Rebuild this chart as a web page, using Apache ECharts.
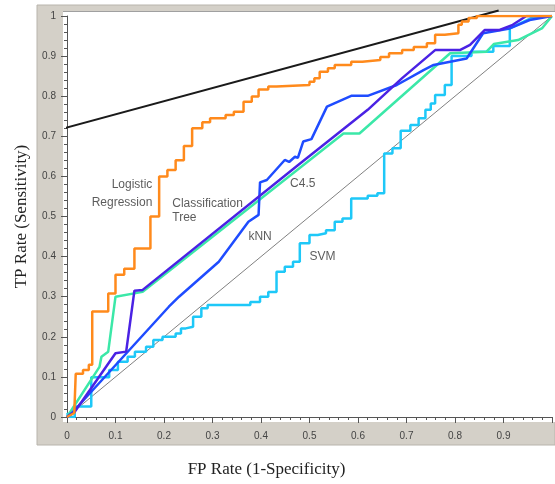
<!DOCTYPE html>
<html>
<head>
<meta charset="utf-8">
<script src="https://cdn.jsdelivr.net/npm/echarts@6/dist/echarts.min.js"></script>
<style>
html,body{margin:0;padding:0;background:#fff;}
#chart{width:555px;height:484px;}
</style>
</head>
<body>
<div id="chart"></div>
<script>
// ---- data ----
const xTickLabels = ['0','0.1','0.2','0.3','0.4','0.5','0.6','0.7','0.8','0.9'];
const seriesNames = ['Logistic Regression','Classification Tree','C4.5','kNN','SVM'];

const logisticRegression = [[0,0],[0.015,0.01],[0.018,0.01],[0.018,0.108],[0.033,0.108],[0.033,0.117],[0.045,0.117],[0.045,0.13],[0.052,0.13],[0.052,0.263],[0.085,0.263],[0.085,0.308],[0.10,0.308],[0.10,0.355],[0.118,0.355],[0.118,0.37],[0.139,0.37],[0.139,0.42],[0.172,0.42],[0.172,0.50],[0.19,0.50],[0.19,0.60],[0.207,0.60],[0.207,0.616],[0.224,0.616],[0.224,0.64],[0.241,0.64],[0.241,0.676],[0.258,0.676],[0.258,0.72],[0.279,0.72],[0.279,0.735],[0.295,0.735],[0.295,0.745],[0.327,0.745],[0.327,0.753],[0.344,0.753],[0.344,0.761],[0.364,0.761],[0.364,0.786],[0.381,0.786],[0.381,0.799],[0.395,0.799],[0.395,0.817],[0.415,0.817],[0.415,0.824],[0.432,0.824],[0.432,0.828],[0.50,0.828],[0.50,0.836],[0.51,0.836],[0.51,0.845],[0.521,0.845],[0.521,0.861],[0.538,0.861],[0.538,0.87],[0.552,0.87],[0.552,0.878],[0.586,0.878],[0.586,0.886],[0.609,0.886],[0.609,0.89],[0.646,0.89],[0.646,0.898],[0.664,0.898],[0.664,0.907],[0.691,0.907],[0.691,0.915],[0.715,0.915],[0.715,0.923],[0.742,0.923],[0.742,0.932],[0.759,0.932],[0.759,0.953],[0.779,0.953],[0.779,0.957],[0.807,0.957],[0.807,0.978],[0.814,0.978],[0.814,0.986],[0.828,0.986],[0.828,0.995],[0.845,0.995],[0.845,1.0],[1,1]];

const classificationTree = [[0,0],[0.067,0.125],[0.071,0.15],[0.085,0.163],[0.10,0.30],[0.156,0.312],[0.57,0.707],[0.603,0.707],[0.79,0.907],[0.865,0.911],[0.88,0.93],[0.93,0.94],[0.98,0.97],[1,1]];

const c45 = [[0,0],[0.016,0.013],[0.10,0.159],[0.122,0.163],[0.139,0.315],[0.156,0.317],[0.476,0.628],[0.62,0.766],[0.691,0.845],[0.759,0.915],[0.81,0.915],[0.831,0.928],[0.861,0.965],[0.892,0.965],[0.919,0.978],[0.947,1.0],[1,1]];

const knn = [[0,0],[0.01,0.01],[0.21,0.275],[0.231,0.30],[0.313,0.387],[0.374,0.487],[0.395,0.504],[0.398,0.504],[0.398,0.585],[0.412,0.591],[0.449,0.641],[0.458,0.636],[0.47,0.649],[0.476,0.646],[0.487,0.687],[0.504,0.693],[0.536,0.774],[0.586,0.801],[0.62,0.801],[0.68,0.828],[0.735,0.865],[0.756,0.878],[0.824,0.894],[0.858,0.957],[0.913,0.969],[0.954,0.99],[1,1]];

const svm = [[0,0.01],[0.005,0.0],[0.016,0.0],[0.016,0.026],[0.05,0.026],[0.05,0.099],[0.087,0.099],[0.087,0.117],[0.105,0.117],[0.105,0.138],[0.125,0.138],[0.125,0.15],[0.14,0.15],[0.14,0.163],[0.163,0.163],[0.163,0.175],[0.178,0.175],[0.178,0.192],[0.197,0.192],[0.197,0.20],[0.224,0.20],[0.224,0.208],[0.235,0.208],[0.235,0.221],[0.245,0.221],[0.245,0.225],[0.26,0.225],[0.26,0.25],[0.277,0.25],[0.277,0.271],[0.29,0.271],[0.29,0.279],[0.378,0.279],[0.378,0.287],[0.398,0.287],[0.398,0.30],[0.415,0.30],[0.415,0.312],[0.432,0.312],[0.432,0.362],[0.449,0.362],[0.449,0.375],[0.466,0.375],[0.466,0.387],[0.48,0.387],[0.48,0.433],[0.50,0.433],[0.50,0.454],[0.517,0.454],[0.517,0.458],[0.534,0.458],[0.534,0.466],[0.552,0.466],[0.552,0.487],[0.568,0.487],[0.568,0.495],[0.586,0.495],[0.586,0.545],[0.62,0.545],[0.62,0.552],[0.64,0.552],[0.64,0.558],[0.654,0.558],[0.654,0.657],[0.671,0.657],[0.671,0.67],[0.688,0.67],[0.688,0.714],[0.708,0.714],[0.708,0.728],[0.725,0.728],[0.725,0.745],[0.739,0.745],[0.739,0.766],[0.75,0.766],[0.75,0.782],[0.759,0.782],[0.759,0.803],[0.779,0.803],[0.779,0.828],[0.793,0.828],[0.793,0.9],[0.834,0.9],[0.834,0.911],[0.879,0.911],[0.879,0.925],[0.913,0.925],[0.913,0.969],[0.957,0.995],[1,1]];

const diagonal = [[0,0],[1,1]];
const isoLine = [[-0.008,0.7195],[0.89,1.0135]];

const annText  = ['Logistic','Regression','Classification','Tree','C4.5','kNN','SVM'];
const annX     = [0.176,0.176,0.217,0.217,0.46,0.374,0.50];
const annY     = [0.579,0.534,0.533,0.497,0.583,0.45,0.40];
const annAlign = ['right','right','left','left','left','left','left'];

const colors = {
  lr:'#ff8a1c', ct:'#3be8a8', c45:'#4a22e4', knn:'#1f4cff', svm:'#1ec8f8'
};

// ---- chart ----
const chart = echarts.init(document.getElementById('chart'), null, {renderer:'canvas'});

function lineSeries(name, data, color, width, z) {
  return {
    name, type:'line', data, showSymbol:false, symbol:'none',
    lineStyle:{color, width}, itemStyle:{color}, z: z, animation:false
  };
}

const annData = annText.map((t,i)=>({
  value:[annX[i], annY[i]],
  label:{show:true, formatter:t, position: annAlign[i]==='right' ? 'left' : 'right',
         distance:0, align: annAlign[i], verticalAlign:'middle'}
}));

const option = {
  animation:false,
  backgroundColor:'#ffffff',
  graphic:[
    {type:'rect', z:-20, shape:{x:37,y:5,width:518,height:440}, style:{fill:'#d4d0c8', stroke:'#b8b4ac', lineWidth:1}},
    {type:'rect', z:-19, shape:{x:63,y:11,width:492,height:411}, style:{fill:'#ffffff'}},
    {type:'line', z:-18, shape:{x1:63,y1:11.5,x2:555,y2:11.5}, style:{stroke:'#a0a0a0', lineWidth:1}}
  ],
  grid:{left:67, top:16, width:489, height:401, containLabel:false},
  xAxis:{
    type:'value', min:0, max:1, interval:0.1, offset:8,
    name:'FP Rate (1-Specificity)', nameLocation:'middle', nameGap:36,
    nameTextStyle:{fontFamily:'Liberation Serif', fontSize:17, color:'#222', padding:[0,86,0,0]},
    axisLine:{show:true, lineStyle:{color:'#555', width:1}},
    axisTick:{show:true, length:6, lineStyle:{color:'#555'}},
    minorTick:{show:true, splitNumber:5, length:3, lineStyle:{color:'#555'}},
    splitLine:{show:false}, minorSplitLine:{show:false},
    axisLabel:{fontFamily:'Liberation Sans', fontSize:10, color:'#444', margin:6,
      formatter:(v)=>{ const i=Math.round(v*10); return i<xTickLabels.length ? xTickLabels[i] : ''; }}
  },
  yAxis:{
    type:'value', min:0, max:1, interval:0.1, offset:6,
    name:'TP Rate (Sensitivity)', nameLocation:'middle', nameGap:31, nameRotate:90,
    nameTextStyle:{fontFamily:'Liberation Serif', fontSize:17, color:'#222'},
    axisLine:{show:true, lineStyle:{color:'#555', width:1}},
    axisTick:{show:true, length:6, lineStyle:{color:'#555'}},
    minorTick:{show:true, splitNumber:5, length:3, lineStyle:{color:'#555'}},
    splitLine:{show:false}, minorSplitLine:{show:false},
    axisLabel:{fontFamily:'Liberation Sans', fontSize:10, color:'#444', margin:5}
  },
  series:[
    lineSeries('Random', diagonal, '#808080', 1, 2),
    Object.assign(lineSeries('Iso', isoLine, '#1a1a1a', 2, 3), {clip:false}),
    lineSeries(seriesNames[4], svm, colors.svm, 2.5, 4),
    lineSeries(seriesNames[1], classificationTree, colors.ct, 2.5, 5),
    lineSeries(seriesNames[3], knn, colors.knn, 2.5, 6),
    lineSeries(seriesNames[2], c45, colors.c45, 2.5, 7),
    lineSeries(seriesNames[0], logisticRegression, colors.lr, 2.5, 8),
    {
      name:'labels', type:'scatter', data:annData, symbolSize:0, z:10,
      label:{show:true, fontFamily:'Liberation Sans', fontSize:12, color:'#333'},
      silent:true, animation:false
    }
  ]
};
chart.setOption(option);
</script>
</body>
</html>
